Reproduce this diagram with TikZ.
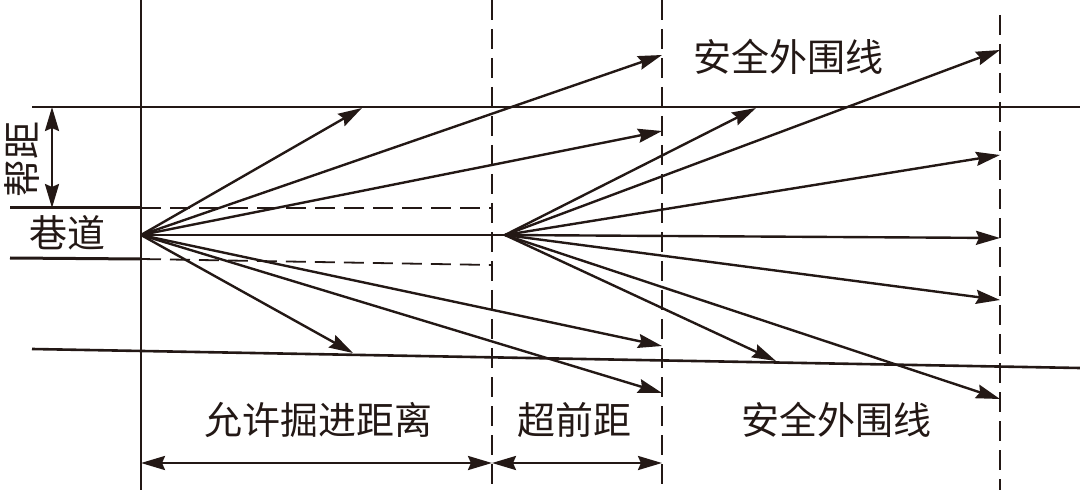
\documentclass[tikz,border=0pt]{standalone}
\usepackage{fontspec}
\newfontfamily\cjk{Noto Sans CJK SC}
\usetikzlibrary{positioning,arrows.meta}
\definecolor{ink}{HTML}{231815}

\begin{document}
\begin{tikzpicture}[x=1pt, y=-1pt, color=ink]
    \tikzset{
      wall/.style = {line width=2.6pt},
      guide/.style = {line width=1.8pt, dash pattern=on 20pt off 9pt},
      ray/.style = {line width=2.4pt, -{Stealth[length=24pt, width=14pt, inset=3pt]}},
      dim/.style = {line width=2.6pt, {Stealth[length=24pt, width=14pt, inset=3pt]}-{Stealth[length=24pt, width=14pt, inset=3pt]}},
      label/.style = {font=\cjk\fontsize{38}{40}\selectfont, inner sep=0pt}
    }
    \useasboundingbox (0,0) rectangle (1080,497);

    % reference points
    \coordinate (src) at (141,235);
    \coordinate (adv) at (505,235);
    \coordinate (top_l) at (32,107);
    \coordinate (top_r) at (1080,107);
    \coordinate (bot_l) at (32,349);
    \coordinate (bot_r) at (1080,368);
    \coordinate (rwu_l) at (10,208);
    \coordinate (rwu_m) at (141,208);
    \coordinate (rwu_r) at (492,208);
    \coordinate (rwd_l) at (10,258);
    \coordinate (rwd_m) at (141,259);
    \coordinate (rwd_r) at (492,265);

    % vertical limits
    \coordinate (face_t) at (141,0);
    \coordinate (face_b) at (141,490);
    \coordinate (lim1_t) at (492,0);
    \coordinate (lim1_b) at (492,490);
    \coordinate (lim2_t) at (662,0);
    \coordinate (lim2_b) at (662,490);
    \coordinate (lim3_t) at (1000,15);
    \coordinate (lim3_b) at (1000,490);

    \draw [wall] (face_t) -- (face_b);
    \draw [guide] (lim1_t) -- (lim1_b);
    \draw [guide] (lim2_t) -- (lim2_b);
    \draw [guide] (lim3_t) -- (lim3_b);

    \draw [wall] (top_l) -- (top_r);
    \draw [wall] (bot_l) -- (bot_r);
    \draw [wall, line width=3pt] (rwu_l) -- (rwu_m);
    \draw [guide] (rwu_m) -- (rwu_r);
    \draw [wall, line width=3pt] (rwd_l) -- (rwd_m);
    \draw [guide] (rwd_m) -- (rwd_r);

    % rays from the roadway face
    \coordinate (s1) at (362,108);
    \coordinate (s2) at (662,55);
    \coordinate (s3) at (662,131);
    \coordinate (s4) at (353,353);
    \coordinate (s5) at (662,346);
    \coordinate (s6) at (662,393);
    \draw [wall] (src) -- (adv);
    \draw [ray] (src) -- (s1);
    \draw [ray] (src) -- (s2);
    \draw [ray] (src) -- (s3);
    \draw [ray] (src) -- (s4);
    \draw [ray] (src) -- (s5);
    \draw [ray] (src) -- (s6);

    % rays from the advance point
    \coordinate (a1) at (756,108);
    \coordinate (a2) at (1000,50);
    \coordinate (a3) at (1000,155);
    \coordinate (a4) at (1000,238);
    \coordinate (a5) at (1000,300);
    \coordinate (a6) at (776,361);
    \coordinate (a7) at (1000,399);
    \draw [ray] (adv) -- (a1);
    \draw [ray] (adv) -- (a2);
    \draw [ray] (adv) -- (a3);
    \draw [ray] (adv) -- (a4);
    \draw [ray] (adv) -- (a5);
    \draw [ray] (adv) -- (a6);
    \draw [ray] (adv) -- (a7);

    % dimensions
    \coordinate (rib_t) at (52,107);
    \coordinate (rib_b) at (52,208);
    \coordinate (d_face) at (141,463);
    \coordinate (d_lim1) at (492,463);
    \coordinate (d_lim2) at (662,463);
    \draw [dim] (rib_t) -- (rib_b);
    \draw [dim] (d_face) -- (d_lim1);
    \draw [dim] (d_lim1) -- (d_lim2);

    % labels
    \node (rib) [label, rotate=90] at (22,160) {帮距};
    \node (road) [label] at (67,233) {巷道};
    \node (safe_top) [label] at (788,57) {安全外围线};
    \node (allow) [label] at (318,420) {允许掘进距离};
    \node (lead) [label] at (574,420) {超前距};
    \node (safe_bot) [label] at (836,420) {安全外围线};
\end{tikzpicture}
\end{document}
